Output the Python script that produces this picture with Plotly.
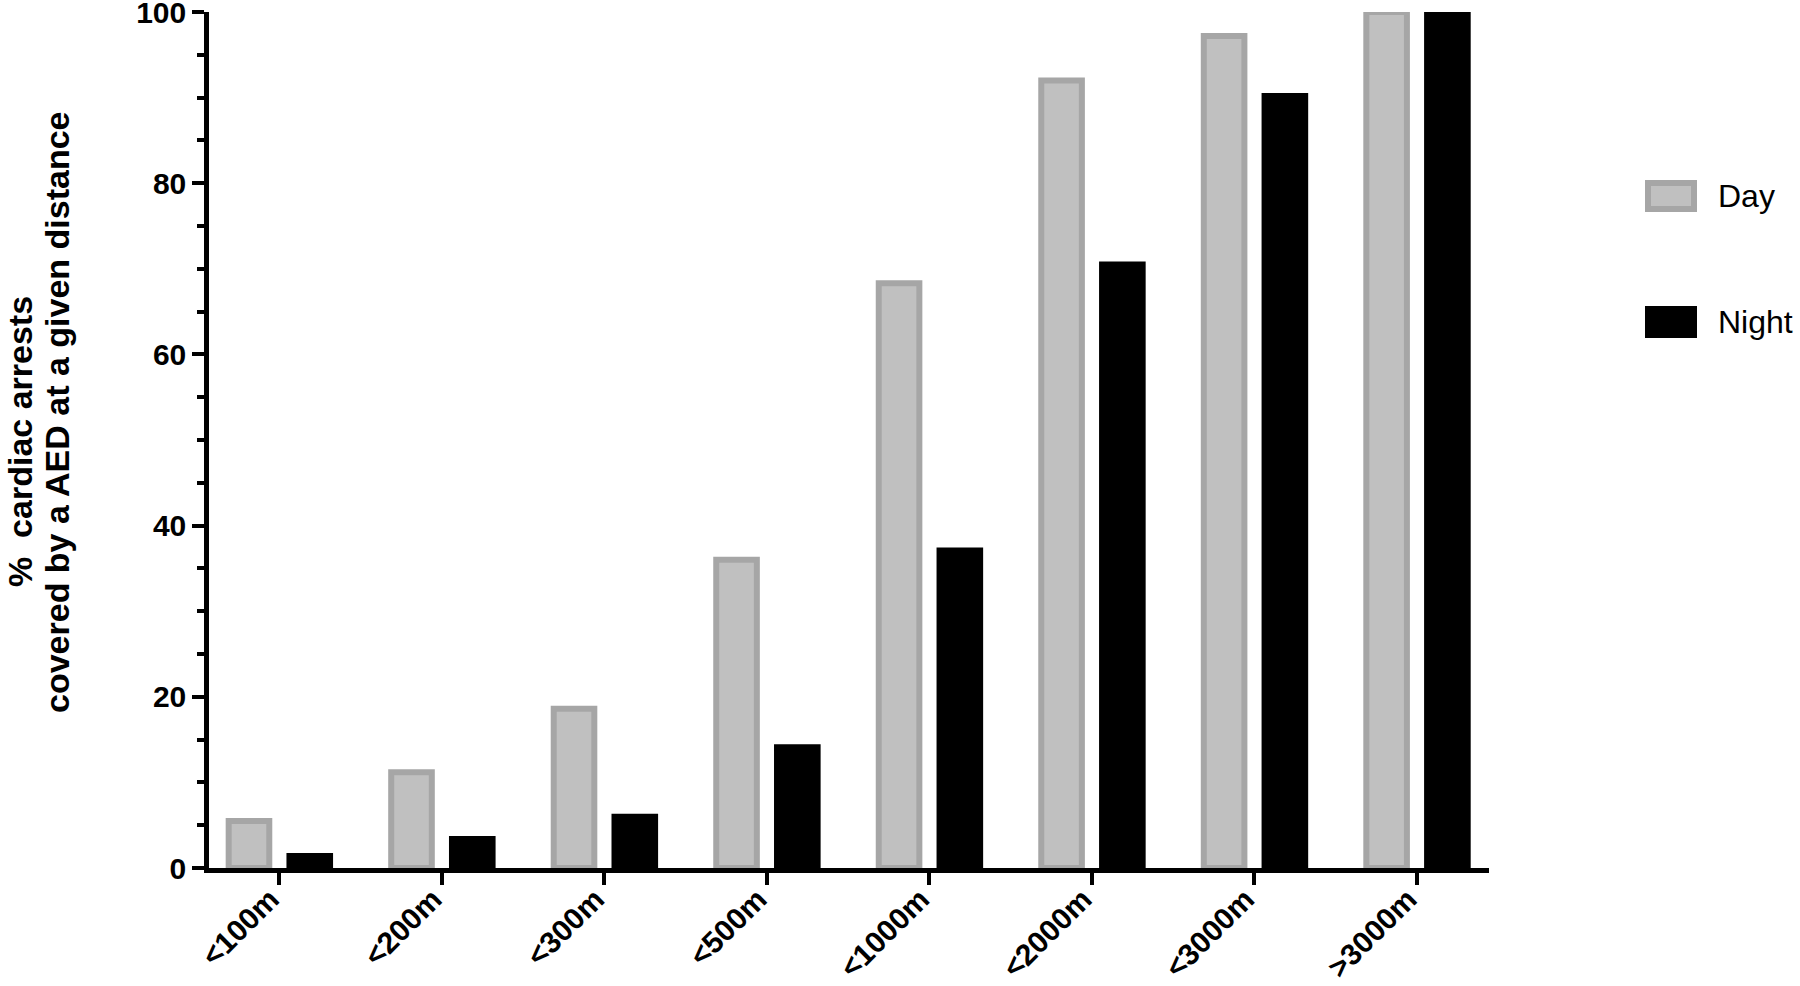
import plotly.graph_objects as go

# ---- data ----
categories = ["<100m", "<200m", "<300m", "<500m", "<1000m", "<2000m", "<3000m", ">3000m"]
day_values = [5.5, 11.2, 18.6, 36.0, 68.3, 92.0, 97.2, 100.0]
night_values = [1.4, 3.4, 6.0, 14.1, 37.1, 70.5, 90.2, 100.0]
y_ticks = [0, 20, 40, 60, 80, 100]
series_names = ["Day", "Night"]
y_title_lines = ["%\u00a0 cardiac arrests", "covered by a AED at a given distance"]

# ---- layout geometry (pixels) ----
W, H = 1800, 986
ML, MR, MT, MB = 209, 311, 12, 118
PW, PH = W - ML - MR, H - MT - MB


def px_x(px):
    return (px - ML) / PW


def px_y(py):
    return (H - MB - py) / PH


FONT = "Liberation Sans, Arial, Helvetica, sans-serif"
DAY_FILL = "#c0c0c0"
DAY_LINE = "#a6a6a6"

fig = go.Figure()
fig.add_trace(go.Bar(
    x=categories, y=day_values, name=series_names[0],
    marker=dict(color=DAY_FILL, line=dict(color=DAY_LINE, width=6)),
    cliponaxis=False, showlegend=False,
))
fig.add_trace(go.Bar(
    x=categories, y=night_values, name=series_names[1],
    marker=dict(color="#000000", line=dict(color="#000000", width=6)),
    cliponaxis=False, showlegend=False,
))

fig.update_layout(
    width=W, height=H,
    margin=dict(l=ML, r=MR, t=MT, b=MB, pad=0, autoexpand=False),
    paper_bgcolor="white", plot_bgcolor="white",
    barmode="group", bargap=0.252, bargroupgap=0.332,
    font=dict(family=FONT, color="black"),
    showlegend=False,
)

fig.update_xaxes(
    type="category", range=[-0.433, 7.443], automargin=False,
    showgrid=False, zeroline=False,
    showline=True, linecolor="black", linewidth=4.5,
    ticks="outside", ticklen=12, tickwidth=4, tickcolor="black",
    tickangle=-45, ticklabelshift=-9, ticklabelstandoff=-15,
    tickfont=dict(family=FONT, size=30, color="black", weight="bold"),
)
fig.update_yaxes(
    range=[0, 100], tickvals=y_ticks, automargin=False,
    ticklabeloverflow="allow",
    showgrid=False, zeroline=False,
    showline=True, linecolor="black", linewidth=4.5,
    ticks="outside", ticklen=12, tickwidth=4, tickcolor="black",
    minor=dict(dtick=5, ticks="outside", ticklen=7, tickwidth=4, tickcolor="black"),
    tickfont=dict(family=FONT, size=30, color="black", weight="bold"),
)

# y-axis title as two rotated lines
fig.add_annotation(text=y_title_lines[0], xref="paper", yref="paper",
                   x=px_x(20), y=px_y(442), xanchor="center", yanchor="middle",
                   textangle=-90, showarrow=False,
                   font=dict(family=FONT, size=34, color="black", weight="bold"))
fig.add_annotation(text=y_title_lines[1], xref="paper", yref="paper",
                   x=px_x(57), y=px_y(412), xanchor="center", yanchor="middle",
                   textangle=-90, showarrow=False,
                   font=dict(family=FONT, size=34, color="black", weight="bold"))

# legend drawn as shapes + text
fig.add_shape(type="rect", xref="paper", yref="paper",
              x0=px_x(1648), x1=px_x(1694), y0=px_y(209), y1=px_y(183),
              fillcolor=DAY_FILL, line=dict(color=DAY_LINE, width=6))
fig.add_shape(type="rect", xref="paper", yref="paper",
              x0=px_x(1645), x1=px_x(1697), y0=px_y(338), y1=px_y(306),
              fillcolor="#000000", line=dict(width=0))
fig.add_annotation(text=series_names[0], xref="paper", yref="paper",
                   x=px_x(1716), y=px_y(196), xanchor="left", yanchor="middle",
                   showarrow=False, font=dict(family=FONT, size=32, color="black"))
fig.add_annotation(text=series_names[1], xref="paper", yref="paper",
                   x=px_x(1716), y=px_y(322), xanchor="left", yanchor="middle",
                   showarrow=False, font=dict(family=FONT, size=32, color="black"))

fig.write_html(
    "out.html",
    config={"displayModeBar": False},
    post_script="document.body.style.margin='0';document.body.style.padding='0';",
)
